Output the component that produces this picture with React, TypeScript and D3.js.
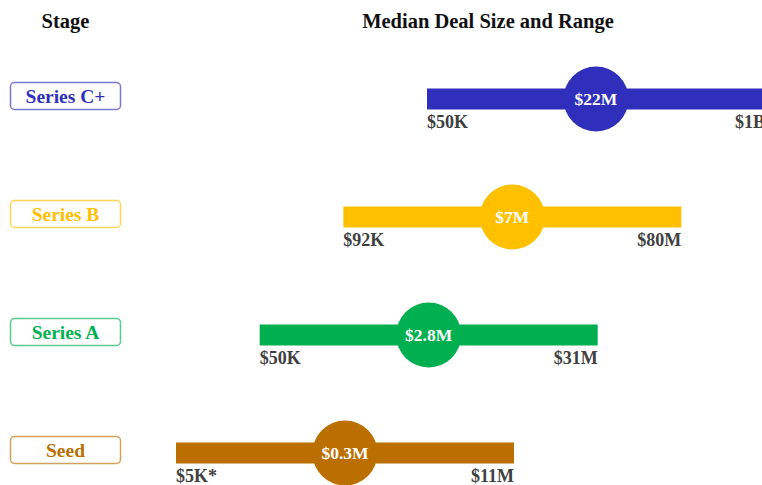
import React from "react";
import * as d3 from "d3";

const stages = ["Series C+", "Series B", "Series A", "Seed"];
const medianLabels = ["$22M", "$7M", "$2.8M", "$0.3M"];
const minLabels = ["$50K", "$92K", "$50K", "$5K*"];
const maxLabels = ["$1B", "$80M", "$31M", "$11M"];
const colors = ["#2f2fbb", "#ffc000", "#00b050", "#bb6f00"];

const W = 762;
const H = 485;
const FONT = "'Liberation Serif', 'DejaVu Serif', serif";

export default function App() {
  const y = d3.scalePoint<string>().domain(stages).range([99, 453]);
  const xStart = d3.scalePoint<string>().domain([...stages].reverse()).range([176, 427]);
  const barW = 338;
  const barH = 21;
  const r = 32.5;

  return (
    <svg width={W} height={H} style={{ position: "absolute", left: 0, top: 0 }} fontFamily={FONT} fontWeight="bold">
      <rect width={W} height={H} fill="#ffffff" />
      <text x={65.5} y={28} textAnchor="middle" fontSize={20.5} fill="#111">Stage</text>
      <text x={488} y={28} textAnchor="middle" fontSize={20.5} fill="#111">Median Deal Size and Range</text>
      {stages.map((s, i) => {
        const cy = y(s)!;
        const x0 = xStart(s)!;
        const cx = x0 + barW / 2;
        const c = colors[i];
        return (
          <g key={s}>
            <rect x={10.5} y={cy - 3 - 13.5} width={110} height={27} rx={4} fill="#fff" stroke={c} strokeOpacity={0.65} strokeWidth={1.5} />
            <text x={65.5} y={cy - 3 + 7} textAnchor="middle" fontSize={19.5} fill={c}>{s}</text>
            <rect x={x0} y={cy - barH / 2} width={barW} height={barH} fill={c} />
            <circle cx={cx} cy={cy} r={r} fill={c} />
            <text x={cx} y={cy + 6} textAnchor="middle" fontSize={17.5} fill="#fff">{medianLabels[i]}</text>
            <text x={x0} y={cy + 29} textAnchor="start" fontSize={18} fill="#404040">{minLabels[i]}</text>
            <text x={x0 + barW} y={cy + 29} textAnchor="end" fontSize={18} fill="#404040">{maxLabels[i]}</text>
          </g>
        );
      })}
    </svg>
  );
}
